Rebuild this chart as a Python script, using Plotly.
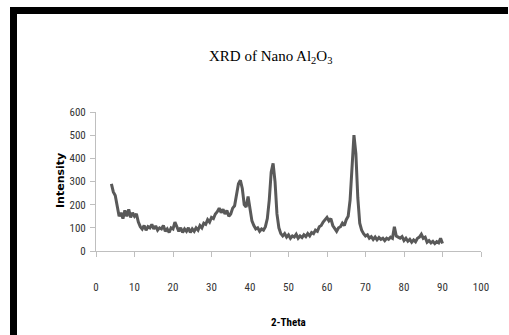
import plotly.graph_objects as go

# 2-Theta scan: start and step of the instrument grid
theta_start = 4.0
theta_step = 0.5

intensity = [
    290, 255, 240, 190, 150, 165, 140, 175, 150, 180,   # 4.0 - 8.5
    145, 165, 150, 160, 125, 105, 95, 110, 90, 105,     # 9.0 - 13.5
    100, 115, 95, 108, 90, 100, 95, 110, 85, 95,        # 14.0 - 18.5
    80, 100, 95, 125, 100, 85, 100, 80, 95, 85,         # 19.0 - 23.5
    100, 80, 95, 85, 100, 90, 110, 100, 120, 115,       # 24.0 - 28.5
    135, 125, 145, 140, 160, 170, 185, 165, 180, 160,   # 29.0 - 33.5
    175, 150, 160, 185, 195, 240, 290, 305, 270, 200,   # 34.0 - 38.5
    190, 235, 175, 130, 110, 95, 100, 85, 95, 90,       # 39.0 - 43.5
    105, 140, 220, 340, 378, 300, 160, 100, 75, 65,     # 44.0 - 48.5
    75, 60, 70, 55, 65, 60, 72, 55, 65, 58,             # 49.0 - 53.5
    70, 62, 75, 65, 80, 75, 90, 85, 105, 110,           # 54.0 - 58.5
    125, 135, 145, 130, 140, 110, 95, 85, 100, 105,     # 59.0 - 63.5
    120, 110, 135, 150, 220, 370, 500, 420, 230, 120,   # 64.0 - 68.5
    90, 75, 65, 70, 55, 62, 50, 60, 48, 58,             # 69.0 - 73.5
    50, 55, 45, 55, 50, 60, 55, 105, 65, 60,            # 74.0 - 78.5
    55, 62, 45, 55, 42, 50, 38, 48, 40, 55,             # 79.0 - 83.5
    60, 72, 55, 60, 38, 45, 35, 42, 32, 40,             # 84.0 - 88.5
    35, 55, 32,                                         # 89.0 - 90.0
]
two_theta = [theta_start + theta_step * i for i in range(len(intensity))]

x_ticks = [0, 10, 20, 30, 40, 50, 60, 70, 80, 90, 100]
y_ticks = [0, 100, 200, 300, 400, 500, 600]

W, H = 509, 335
narrow = "Liberation Sans Narrow, Arial Narrow, Roboto Condensed, Liberation Sans, sans-serif"

fig = go.Figure()
fig.add_trace(go.Scatter(
    x=two_theta, y=intensity, mode="lines",
    line=dict(color="#595959", width=3),
    showlegend=False, hoverinfo="skip",
))

axis_common = dict(
    showgrid=False, zeroline=False, showline=True, linecolor="#bfbfbf", linewidth=1,
    ticks="outside", ticklen=5, tickcolor="#bfbfbf", automargin=False,
    tickfont=dict(family=narrow, size=11, color="#333333"),
)

fig.update_layout(
    width=W, height=H,
    margin=dict(l=0, r=0, t=0, b=0, pad=0),
    paper_bgcolor="white", plot_bgcolor="white",
    xaxis=dict(domain=[96 / W, 481 / W], range=[0, 100], tickvals=x_ticks,
               ticktext=[str(v) for v in x_ticks], ticklabelstandoff=21, **axis_common),
    yaxis=dict(domain=[(H - 251) / H, (H - 112) / H], range=[0, 600], tickvals=y_ticks,
               ticktext=[str(v) for v in y_ticks], ticklabelstandoff=2, **axis_common),
    shapes=[
        dict(type="rect", xref="paper", yref="paper", x0=10 / W, x1=508 / W,
             y0=1 - 14 / H, y1=1 - 7 / H, fillcolor="black", line=dict(width=0)),
        dict(type="rect", xref="paper", yref="paper", x0=10 / W, x1=17 / W,
             y0=0, y1=1 - 7 / H, fillcolor="black", line=dict(width=0)),
    ],
    annotations=[
        dict(text="XRD of Nano Al<sub>2</sub>O<sub>3</sub>", xref="paper", yref="paper",
             x=270 / W, y=1 - 57 / H, xanchor="center", yanchor="middle", showarrow=False,
             font=dict(family="Liberation Serif, Times New Roman, serif", size=15, color="black")),
        dict(text="<b>Intensity</b>", xref="paper", yref="paper", textangle=-90,
             x=60 / W, y=1 - 181 / H, xanchor="center", yanchor="middle", showarrow=False,
             font=dict(family="DejaVu Sans, Verdana, sans-serif", size=11, color="black")),
        dict(text="<b>2-Theta</b>", xref="paper", yref="paper",
             x=288 / W, y=1 - 322 / H, xanchor="center", yanchor="middle", showarrow=False,
             font=dict(family=narrow, size=11, color="black")),
    ],
)

fig.write_html("out.html", config={"displayModeBar": False},
               post_script="document.body.style.margin='0';")
